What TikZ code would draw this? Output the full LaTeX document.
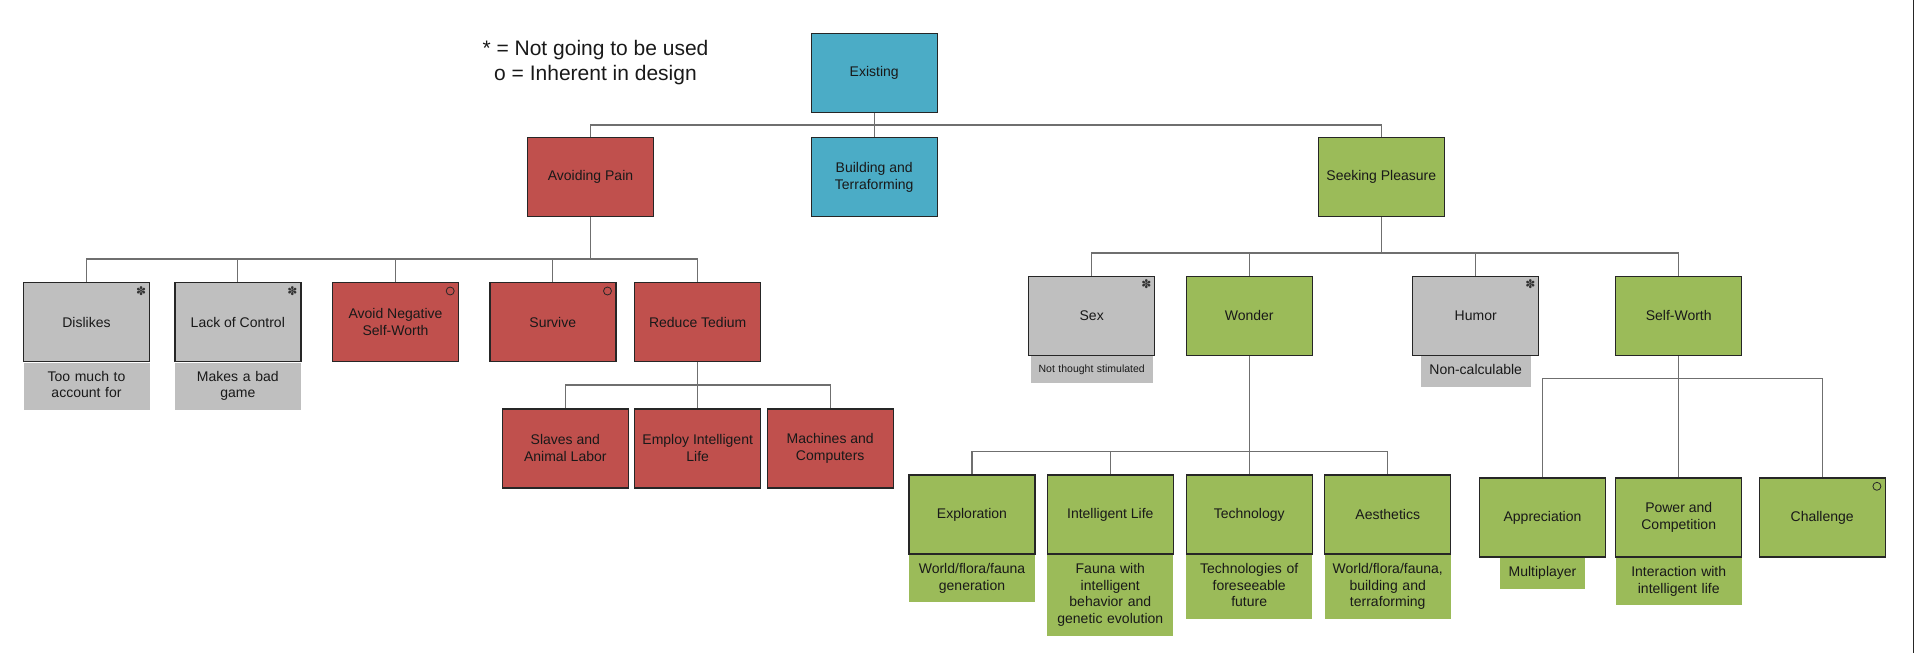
\documentclass[tikz,border=0pt]{standalone}
\usepackage{fontspec}
\setmainfont{Liberation Sans}
\newfontfamily\symfont{DejaVu Sans}
\usetikzlibrary{positioning}

\definecolor{existblue}{HTML}{4BACC6}
\definecolor{painred}{HTML}{C0504D}
\definecolor{pleasuregreen}{HTML}{9BBB59}
\definecolor{unusedgray}{HTML}{BFBFBF}
\definecolor{linkgray}{HTML}{6F6F6F}

\tikzset{
	box/.style={rectangle, draw=black!85, line width=1.4pt, minimum width=126pt, minimum height=79pt,
		inner sep=2pt, align=center, text=black!90, font=\fontsize{14}{16.7}\selectfont},
	bluebox/.style={box, fill=existblue},
	redbox/.style={box, fill=painred},
	greenbox/.style={box, fill=pleasuregreen},
	graybox/.style={box, fill=unusedgray},
	note/.style={rectangle, inner xsep=0pt, inner ysep=7pt, text width=126pt, align=center, text=black!90,
		font=\fontsize{14}{16.7}\selectfont, execute at begin node=\strut, execute at end node=\strut},
	graynote/.style={note, fill=unusedgray},
	greennote/.style={note, fill=pleasuregreen},
	unusedmark/.style={inner sep=0pt, text=black!80, font=\symfont\fontsize{12}{12}\selectfont},
	inherentmark/.style={circle, draw=black!85, line width=0.8pt, inner sep=0pt, minimum size=8pt},
	link/.style={draw=linkgray, line width=1.3pt}
}

\begin{document}
\begin{tikzpicture}[x=1pt, y=-1pt]

	\useasboundingbox (0,0) rectangle (1915,653);

	\def\rowone{73.2}
	\def\rowtwo{177.2}

	% legend
	\node[inner sep=0pt, align=center, text=black!90, font=\fontsize{21}{25}\selectfont] (legend) at (595.5,62.7)
		{* = Not going to be used\\o = Inherent in design};

	% top levels
	\node[bluebox] (existing) at (874.2,\rowone) {Existing};
	\node[redbox] (pain) at (590.5,\rowtwo) {Avoiding Pain};
	\node[bluebox] (building) at (874.2,\rowtwo) {Building and\\Terraforming};
	\node[greenbox] (seeking) at (1381.3,\rowtwo) {Seeking Pleasure};

	% avoiding pain
	\node[graybox] (dislikes) at (86.5,322.2) {Dislikes};
	\node[graybox] (lackctrl) at (237.8,322.2) {Lack of Control};
	\node[redbox] (avoidneg) at (395.5,322.2) {Avoid Negative\\Self-Worth};
	\node[redbox] (survive) at (552.8,322.2) {Survive};
	\node[redbox] (tedium) at (697.7,322.2) {Reduce Tedium};
	\node[graynote, below=0pt of dislikes] (dislikesnote) {Too much to\\account for};
	\node[graynote, below=0pt of lackctrl] (lackctrlnote) {Makes a bad\\game};

	\node[redbox] (slaves) at (565.3,448.3) {Slaves and\\Animal Labor};
	\node[redbox] (employ) at (697.7,448.3) {Employ Intelligent\\Life};
	\node[redbox] (machines) at (830.2,448.3) {Machines and\\Computers};

	% seeking pleasure
	\node[graybox] (sex) at (1091.7,315.8) {Sex};
	\node[greenbox] (wonder) at (1249.2,315.8) {Wonder};
	\node[graybox] (humor) at (1475.7,315.8) {Humor};
	\node[greenbox] (selfworth) at (1678.7,315.8) {Self-Worth};
	\node[graynote, text width=121.6pt, font=\fontsize{10.5}{12.6}\selectfont, below=0pt of sex] (sexnote) {Not thought stimulated};
	\node[graynote, text width=110.3pt, below=0pt of humor] (humornote) {Non-calculable};

	\node[greenbox] (exploration) at (972,514.5) {Exploration};
	\node[greenbox] (intlife) at (1110.3,514.5) {Intelligent Life};
	\node[greenbox] (technology) at (1249.2,514.5) {Technology};
	\node[greenbox] (aesthetics) at (1387.7,514.5) {Aesthetics};
	\node[greennote, below=0pt of exploration] (explorationnote) {World/flora/fauna\\generation};
	\node[greennote, below=0pt of intlife] (intlifenote) {Fauna with\\intelligent\\behavior and\\genetic evolution};
	\node[greennote, below=0pt of technology] (technologynote) {Technologies of\\foreseeable\\future};
	\node[greennote, below=0pt of aesthetics] (aestheticsnote) {World/flora/fauna,\\building and\\terraforming};

	\node[greenbox] (appreciation) at (1542.5,517.5) {Appreciation};
	\node[greenbox] (power) at (1678.7,517.5) {Power and\\Competition};
	\node[greenbox] (challenge) at (1822.2,517.5) {Challenge};
	\node[greennote, text width=85.3pt, below=0pt of appreciation] (appreciationnote) {Multiplayer};
	\node[greennote, below=0pt of power] (powernote) {Interaction with\\intelligent life};

	% corner marks
	\node[unusedmark] (dislikesmark) at ([xshift=-9pt,yshift=-9pt]dislikes.north east) {✽};
	\node[unusedmark] (lackctrlmark) at ([xshift=-9pt,yshift=-9pt]lackctrl.north east) {✽};
	\node[inherentmark] (avoidnegmark) at ([xshift=-9pt,yshift=-9pt]avoidneg.north east) {};
	\node[inherentmark] (survivemark) at ([xshift=-9pt,yshift=-9pt]survive.north east) {};
	\node[unusedmark] (sexmark) at ([xshift=-9pt,yshift=-9pt]sex.north east) {✽};
	\node[unusedmark] (humormark) at ([xshift=-9pt,yshift=-9pt]humor.north east) {✽};
	\node[inherentmark] (challengemark) at ([xshift=-9pt,yshift=-9pt]challenge.north east) {};

	% buses
	\coordinate (topbus) at (874.2,125);
	\coordinate (painbus) at (590.5,259);
	\coordinate (tediumbus) at (697.7,385);
	\coordinate (seekingbus) at (1381.3,253);
	\coordinate (wonderbus) at (1249.2,451.7);
	\coordinate (selfworthbus) at (1678.7,378.7);

	\draw[link] (existing.south) -- (topbus) -| (pain.north);
	\draw[link] (existing.south) -- (topbus) -| (building.north);
	\draw[link] (existing.south) -- (topbus) -| (seeking.north);

	\draw[link] (pain.south) -- (painbus) -| (dislikes.north);
	\draw[link] (pain.south) -- (painbus) -| (lackctrl.north);
	\draw[link] (pain.south) -- (painbus) -| (avoidneg.north);
	\draw[link] (pain.south) -- (painbus) -| (survive.north);
	\draw[link] (pain.south) -- (painbus) -| (tedium.north);

	\draw[link] (tedium.south) -- (tediumbus) -| (slaves.north);
	\draw[link] (tedium.south) -- (tediumbus) -| (employ.north);
	\draw[link] (tedium.south) -- (tediumbus) -| (machines.north);

	\draw[link] (seeking.south) -- (seekingbus) -| (sex.north);
	\draw[link] (seeking.south) -- (seekingbus) -| (wonder.north);
	\draw[link] (seeking.south) -- (seekingbus) -| (humor.north);
	\draw[link] (seeking.south) -- (seekingbus) -| (selfworth.north);

	\draw[link] (wonder.south) -- (wonderbus) -| (exploration.north);
	\draw[link] (wonder.south) -- (wonderbus) -| (intlife.north);
	\draw[link] (wonder.south) -- (wonderbus) -| (technology.north);
	\draw[link] (wonder.south) -- (wonderbus) -| (aesthetics.north);

	\draw[link] (selfworth.south) -- (selfworthbus) -| (appreciation.north);
	\draw[link] (selfworth.south) -- (selfworthbus) -| (power.north);
	\draw[link] (selfworth.south) -- (selfworthbus) -| (challenge.north);

	% right edge
	\draw[line width=1.5pt, black!85] (1913.3,0) -- (1913.3,653);

\end{tikzpicture}
\end{document}
